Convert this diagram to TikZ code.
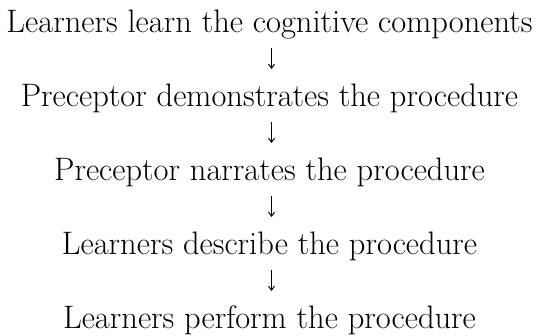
\documentclass[tikz,border=0pt]{standalone}
\usetikzlibrary{arrows.meta}
\begin{document}
\begin{tikzpicture}[x=1pt,y=-1pt,
  stage/.style={anchor=base,inner sep=0pt,font=\fontsize{32.5}{38}\selectfont},
  flow/.style={line width=1pt,-{Straight Barb[length=4pt,width=6pt]}}]
\useasboundingbox (0,0) rectangle (537,335);
\node[stage] (s1) at (269.5,32) {Learners learn the cognitive components};
\node[stage] (s2) at (269.5,106) {Preceptor demonstrates the procedure};
\node[stage] (s3) at (269.5,180) {Preceptor narrates the procedure};
\node[stage] (s4) at (269.5,254) {Learners describe the procedure};
\node[stage] (s5) at (269.5,328) {Learners perform the procedure};
\foreach \a/\b in {s1/s2,s2/s3,s3/s4,s4/s5}
  \draw[flow] ([shift={(2pt,-16pt)}]\a.base) -- ([shift={(2pt,37pt)}]\b.base);
\end{tikzpicture}
\end{document}
